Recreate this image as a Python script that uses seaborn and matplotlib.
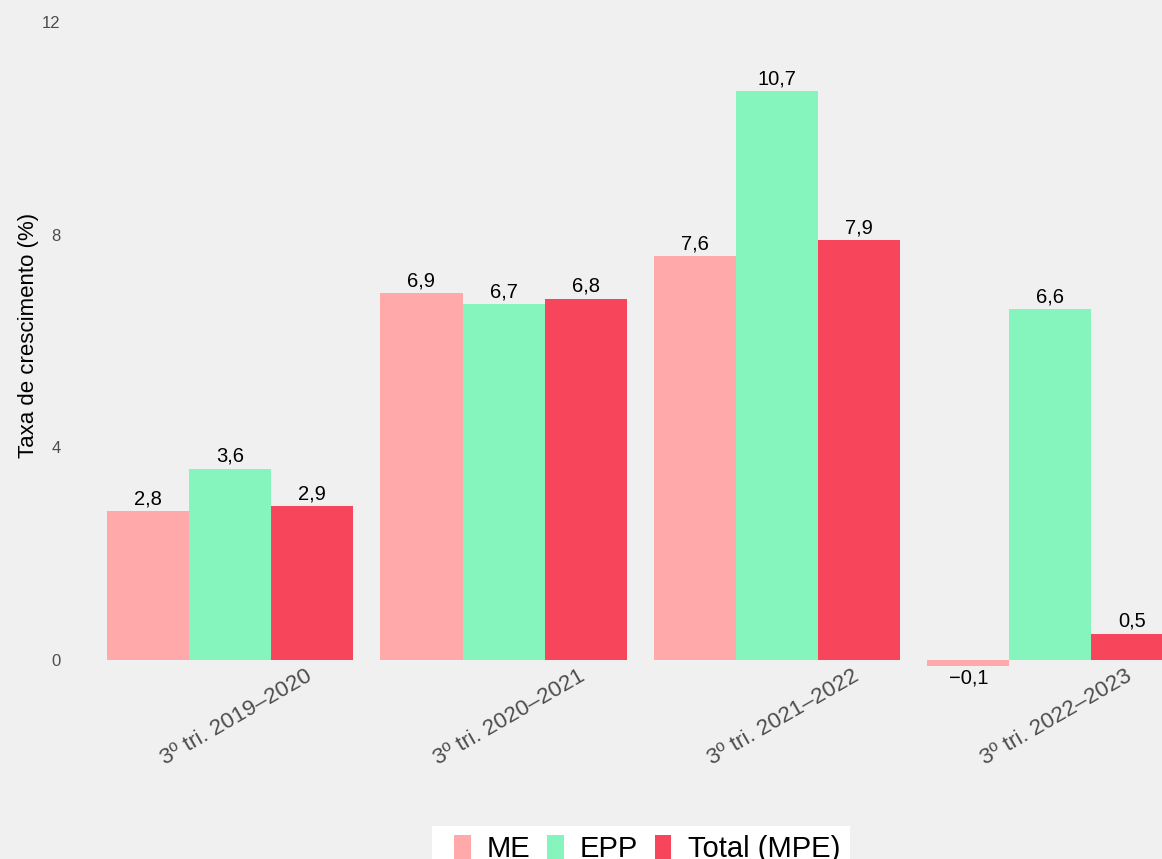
import matplotlib
matplotlib.use("Agg")
import matplotlib.pyplot as plt
import matplotlib.transforms as mtransforms
from matplotlib.patches import Patch, Rectangle
import seaborn as sns
import pandas as pd

periods = ["3º tri. 2019–2020", "3º tri. 2020–2021", "3º tri. 2021–2022", "3º tri. 2022–2023"]
series = ["ME", "EPP", "Total (MPE)"]
me_vals = [2.8, 6.9, 7.6, -0.1]
epp_vals = [3.6, 6.7, 10.7, 6.6]
total_vals = [2.9, 6.8, 7.9, 0.5]
y_ticks = [0, 4, 8, 12]
colors = {"ME": "#FFA9AB", "EPP": "#85F5BD", "Total (MPE)": "#F7465C"}

df = pd.DataFrame({
    "periodo": periods * 3,
    "serie": ["ME"] * 4 + ["EPP"] * 4 + ["Total (MPE)"] * 4,
    "valor": me_vals + epp_vals + total_vals,
})

sns.set_style("white")
plt.rcParams["font.family"] = ["Liberation Sans", "DejaVu Sans"]
bg = "#F0F0F0"

fig = plt.figure(figsize=(11.62, 8.59), dpi=100, facecolor=bg)
ax = fig.add_axes([66 / 1162, 0.2189, (1162 - 66) / 1162, 0.7811])
ax.set_facecolor(bg)

sns.barplot(data=df, x="periodo", y="valor", hue="serie", order=periods,
            hue_order=series, palette=colors, width=0.9, errorbar=None,
            saturation=1, legend=False, ax=ax, linewidth=0)

def fmt(v):
    return f"{v:.1f}".replace(".", ",").replace("-", "\u2212")

for cont in ax.containers:
    vals = [b.get_height() for b in cont]
    ax.bar_label(cont, labels=[fmt(v) for v in vals], padding=2,
                 fontsize=14.5, color="black")

ax.set_xlim(-0.6, 3.408)
ax.set_ylim(-0.2, 12.41)
ax.set_yticks(y_ticks)
ax.set_yticklabels([str(t) for t in y_ticks])
ax.set_xlabel("")
ax.set_ylabel("Taxa de crescimento (%)", fontsize=16, color="black", labelpad=2)
for s in ax.spines.values():
    s.set_visible(False)
ax.tick_params(axis="y", length=0, pad=4, labelsize=12, labelcolor="#4D4D4D")
ax.tick_params(axis="x", length=0, pad=-4, labelsize=16.2, labelcolor="#4D4D4D")
shift = mtransforms.ScaledTranslation(6 / 100, 0, fig.dpi_scale_trans)
for lbl in ax.get_xticklabels():
    lbl.set_rotation(30)
    lbl.set_ha("center")
    lbl.set_va("top")
    lbl.set_transform(lbl.get_transform() + shift)

# legend background box
fig.patches.append(Rectangle((432 / 1162, 0), (850 - 432) / 1162, (859 - 826) / 859,
                             transform=fig.transFigure, facecolor="white",
                             edgecolor="none", zorder=0))
handles = [Patch(facecolor=colors[s], edgecolor="none", label=s) for s in series]
leg = fig.legend(handles=handles, loc="upper left", bbox_to_anchor=(454 / 1162, 1 - 834.5 / 859),
                 ncol=3, fontsize=21, frameon=False,
                 handlelength=0.58, handleheight=0.9, handletextpad=0.55,
                 columnspacing=0.56, borderaxespad=0, borderpad=0)
for t in leg.get_texts():
    t.set_color("black")

fig.savefig("out.png", dpi=100, facecolor=bg)
